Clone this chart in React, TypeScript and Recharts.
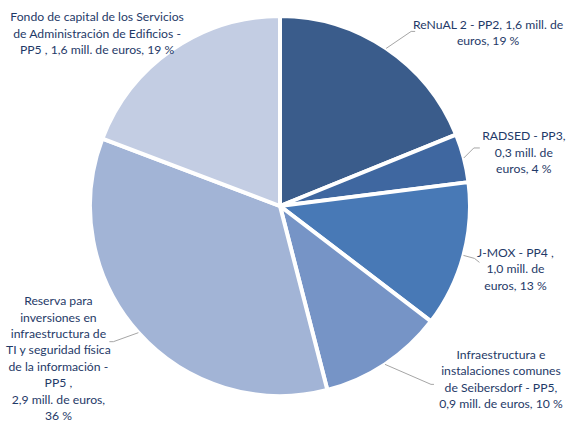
import { PieChart, Pie, Cell } from 'recharts';

// slice names, values in millions of euros, and label lines
const NAMES = [
  'ReNuAL 2 - PP2',
  'RADSED - PP3',
  'J-MOX - PP4',
  'Infraestructura e instalaciones comunes de Seibersdorf - PP5',
  'Reserva para inversiones en infraestructura de TI y seguridad física de la información - PP5',
  'Fondo de capital de los Servicios de Administración de Edificios - PP5',
];
const VALUES = [1.6, 0.35, 1.05, 0.9, 2.95, 1.63];
const LABEL_LINES = [
  ['ReNuAL 2 - PP2, 1,6 mill. de', 'euros, 19 %'],
  ['RADSED - PP3,', '0,3 mill. de', 'euros, 4 %'],
  ['J-MOX - PP4 ,', '1,0 mill. de', 'euros, 13 %'],
  ['Infraestructura e', 'instalaciones comunes', 'de Seibersdorf - PP5,', '0,9 mill. de euros, 10 %'],
  [
    'Reserva para',
    'inversiones en',
    'infraestructura de',
    'TI y seguridad física',
    'de la información -',
    'PP5 ,',
    '2,9 mill. de euros,',
    '36 %',
  ],
  ['Fondo de capital de los Servicios', 'de Administración de Edificios -', 'PP5 , 1,6 mill. de euros, 19 %'],
];

const COLORS = ['#3A5C8B', '#3F67A0', '#4879B6', '#7694C6', '#A2B4D6', '#C3CDE3'];
const TEXT_COLOR = '#1F3A68';
const LINE_HEIGHT = 16.4;

// label placement relative to the slice edge point: text offset + leader elbow points
const LABEL_LAYOUT = [
  { tx: 102, ty: -24, leader: [[25, -17], [29, -17]] },
  { tx: 60, ty: -22, leader: [[10, -10], [16, -10]] },
  { tx: 52, ty: -3, leader: [[11, 3], [16, 7]] },
  { tx: 116, ty: -10, leader: [[46, 20], [49, 20]] },
  { tx: -80, ty: -32, leader: [[-25, 9], [-29, 9]] },
  { tx: -75, ty: -33, leader: [] },
];

const data = NAMES.map((name, i) => ({ name, value: VALUES[i] }));

const RADIAN = Math.PI / 180;

function renderLabel(props: any) {
  const { cx, cy, midAngle, outerRadius, index } = props;
  const ex = cx + outerRadius * Math.cos(-midAngle * RADIAN);
  const ey = cy + outerRadius * Math.sin(-midAngle * RADIAN);
  const layout = LABEL_LAYOUT[index];
  const lines = LABEL_LINES[index];
  const pts = layout.leader.length
    ? [[ex, ey], ...layout.leader.map(([dx, dy]) => [ex + dx, ey + dy])]
    : [];
  return (
    <g key={`label-${index}`}>
      {pts.length > 0 && (
        <polyline
          points={pts.map((p) => p.join(',')).join(' ')}
          fill="none"
          stroke="#A6A6A6"
          strokeWidth={1}
        />
      )}
      <text
        x={ex + layout.tx}
        y={ey + layout.ty}
        textAnchor="middle"
        fill={TEXT_COLOR}
        fontSize={12.2}
        fontFamily="Lato, 'Open Sans', sans-serif"
      >
        {lines.map((line, i) => (
          <tspan key={i} x={ex + layout.tx} y={ey + layout.ty + i * LINE_HEIGHT} dominantBaseline="central">
            {line}
          </tspan>
        ))}
      </text>
    </g>
  );
}

export default function App() {
  return (
    <div style={{ width: 566, height: 423, background: '#fff' }}>
      <style>{'body{margin:0}'}</style>
      <PieChart width={566} height={423} margin={{ top: 0, right: 0, bottom: 0, left: 0 }}>
        <Pie
          data={data}
          dataKey="value"
          nameKey="name"
          cx={280}
          cy={206}
          outerRadius={190}
          startAngle={90}
          endAngle={-270}
          stroke="#fff"
          strokeWidth={4}
          label={renderLabel}
          labelLine={false}
          isAnimationActive={false}
        >
          {data.map((entry, index) => (
            <Cell key={`cell-${index}`} fill={COLORS[index % COLORS.length]} />
          ))}
        </Pie>
      </PieChart>
    </div>
  );
}
